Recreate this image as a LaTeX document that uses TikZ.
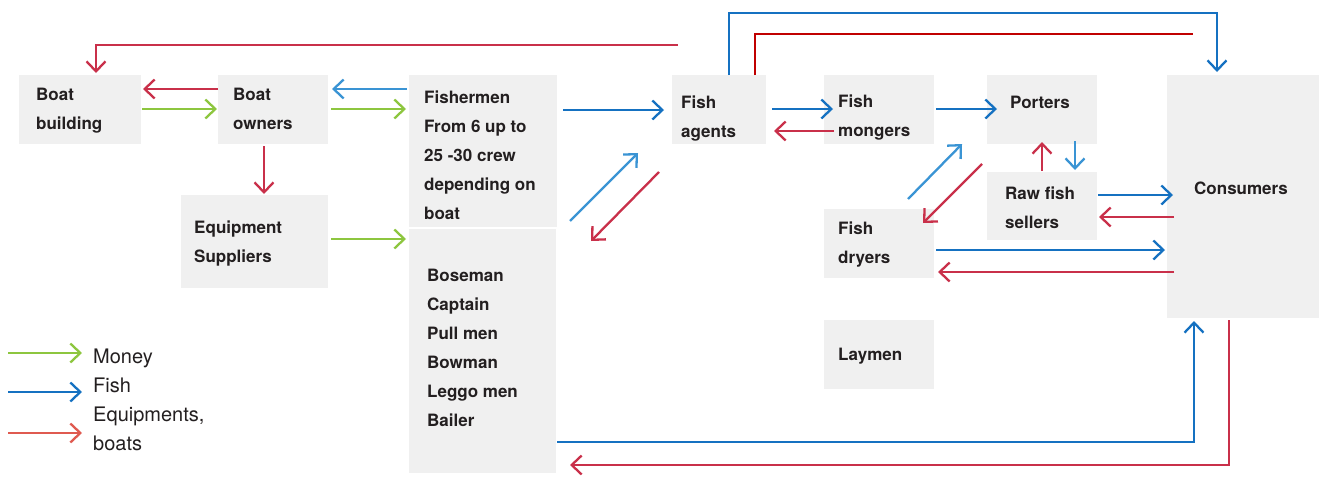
\documentclass[tikz,border=0pt]{standalone}
\usepackage{fontspec}
\setmainfont{TeX Gyre Heros}
\usetikzlibrary{arrows.meta,calc}
\definecolor{cgreen}{HTML}{8DC63F}
\definecolor{cblue}{HTML}{1571C1}
\definecolor{clblue}{HTML}{3A94D4}
\definecolor{cred}{HTML}{C9304A}
\definecolor{cdred}{HTML}{C00000}
\definecolor{clred}{HTML}{DF5A50}
\definecolor{boxgray}{HTML}{F0F0F0}
\definecolor{ink}{HTML}{231F20}
\begin{document}
\begin{tikzpicture}[x=1pt,y=-1pt,
  box/.style={anchor=north west, fill=boxgray, inner sep=0pt, outer sep=0pt},
  txt/.style={anchor=north west, inner sep=0pt, align=left, text=ink,
    font=\fontsize{17pt}{29pt}\selectfont\bfseries},
  lgd/.style={anchor=north west, inner sep=0pt, align=left, text=ink,
    font=\fontsize{20pt}{29pt}\selectfont},
  flow/.style={line width=2.3pt, -{Straight Barb[length=10pt,width=19pt]}},
  plain/.style={line width=2.3pt}]
\useasboundingbox (0,0) rectangle (1319,477);

% boxes
\node[box, minimum width=122pt, minimum height=69pt] (bb) at (19,75) {};
\node[box, minimum width=110pt, minimum height=69pt] (bo) at (218,75) {};
\node[box, minimum width=147pt, minimum height=93pt] (eq) at (181,195) {};
\node[box, minimum width=148pt, minimum height=152pt] (fm) at (409,75) {};
\node[box, minimum width=147pt, minimum height=244pt] (crew) at (409,229) {};
\node[box, minimum width=94pt, minimum height=69pt] (fa) at (672,75) {};
\node[box, minimum width=110pt, minimum height=69pt] (fmo) at (824,75) {};
\node[box, minimum width=110pt, minimum height=69pt] (po) at (987,75) {};
\node[box, minimum width=110pt, minimum height=68pt] (rf) at (987,172) {};
\node[box, minimum width=110pt, minimum height=69pt] (fd) at (824,209) {};
\node[box, minimum width=110pt, minimum height=69pt] (lay) at (824,320) {};
\node[box, minimum width=152pt, minimum height=243pt] (con) at (1167,75) {};

% texts
\node[txt] (bbT) at (36,87.7) {Boat\\building};
\node[txt] (boT) at (233,87.7) {Boat\\owners};
\node[txt] (eqT) at (194,220.7) {Equipment\\Suppliers};
\node[txt] (fmT) at (424,90.7) {Fishermen\\From 6 up to\\25 -30 crew\\depending on\\boat};
\node[txt] (crewT) at (427,268.7) {Boseman\\Captain\\Pull men\\Bowman\\Leggo men\\Bailer};
\node[txt] (faT) at (681,95.7) {Fish\\agents};
\node[txt] (fmoT) at (838,94.7) {Fish\\mongers};
\node[txt] (poT) at (1010,95.7) {Porters};
\node[txt] (rfT) at (1005,186.7) {Raw fish\\sellers};
\node[txt] (fdT) at (838,221.7) {Fish\\dryers};
\node[txt] (layT) at (838,347.7) {Laymen};
\node[txt] (conT) at (1194,181.7) {Consumers};

% legend
\node[lgd] (lgM) at (93,348.6) {Money};
\node[lgd] (lgF) at (93,377.6) {Fish};
\node[lgd] (lgE) at (93,406.6) {Equipments,\\boats};
\coordinate (l1) at (8,353);
\coordinate (l2) at (8,392);
\coordinate (l3) at (8,433);
\draw[flow, cgreen] (l1) -- ([xshift=-11pt]lgM.west |- l1);
\draw[flow, cblue] (l2) -- ([xshift=-11pt]lgF.west |- l2);
\draw[flow, clred] (l3) -- ([xshift=-11pt]lgE.west |- l3);

% connectors
\coordinate (t1) at (678,45);
\draw[flow, cred] (t1) -| ([xshift=16pt,yshift=2pt]bb.north);
\draw[flow, cred] (bo.west |- 0,89) -- ([xshift=2pt]bb.east |- 0,89);
\draw[flow, cgreen] ([xshift=1pt]bb.east |- 0,109) -- ([xshift=-1pt]bo.west |- 0,109);
\draw[flow, clblue] ([xshift=-2pt]fm.west |- 0,89) -- ([xshift=4pt]bo.east |- 0,89);
\draw[flow, cgreen] ([xshift=3pt]bo.east |- 0,109) -- ([xshift=-3pt]fm.west |- 0,109);
\draw[flow, cred] ([yshift=-2pt]bo.south -| 264,0) -- ([yshift=1pt]eq.north -| 264,0);
\draw[flow, cgreen] ([xshift=3pt]eq.east |- 0,239) -- ([xshift=-3pt]crew.west |- 0,239);
\draw[flow, cblue] ([xshift=6pt]fm.east |- 0,110) -- ([xshift=-8pt]fa.west |- 0,110);
\draw[flow, clblue] ($(fm.south east)+(13,-6)$) -- ($(fa.south west)+(-34,9)$);
\draw[flow, cred] ($(fa.south west)+(-13,28)$) -- ($(fm.south east)+(34,14)$);
\draw[flow, cblue] ([xshift=10pt]fa.north) -- ++(0,-62) -| ([xshift=-26pt,yshift=3pt]con.north);
\coordinate (r2) at (1193,34);
\draw[plain, cdred] ([xshift=36pt]fa.north) |- (r2);
\draw[flow, cblue] ([xshift=6pt]fa.east |- 0,109) -- ([xshift=9pt]fmo.west |- 0,109);
\draw[flow, cred] ([xshift=10pt]fmo.west |- 0,131) -- ([xshift=8pt]fa.east |- 0,131);
\draw[flow, cblue] ([xshift=2pt]fmo.east |- 0,109) -- ([xshift=10pt]po.west |- 0,109);
\draw[flow, clblue] ($(fd.north east)+(-26,-10)$) -- ($(po.south west)+(-25,0)$);
\draw[flow, cred] ($(po.south west)+(-5,20)$) -- ($(fd.north east)+(-11,14)$);
\draw[flow, cred] ([yshift=1pt]rf.north -| 1042,0) -- ([yshift=2pt]po.south -| 1042,0);
\draw[flow, clblue] ([yshift=3pt]po.south -| 1075,0) -- ([yshift=2pt]rf.north -| 1075,0);
\draw[flow, cblue] ([xshift=1pt]rf.east |- 0,195) -- ([xshift=6pt]con.west |- 0,195);
\draw[flow, cred] ([xshift=7pt]con.west |- 0,217) -- ([xshift=2pt]rf.east |- 0,217);
\draw[flow, cblue] ([xshift=2pt]fd.east |- 0,250) -- ([xshift=-2pt]con.west |- 0,250);
\draw[flow, cred] ([xshift=7pt]con.west |- 0,272) -- ([xshift=4pt]fd.east |- 0,272);
\draw[flow, cblue] ([xshift=1pt]crew.east |- 0,442) -| ([xshift=-49pt,yshift=-3pt]con.south);
\draw[flow, cred] ([xshift=-14pt,yshift=-2pt]con.south) |- ([xshift=14pt]crew.east |- 0,465);
\end{tikzpicture}
\end{document}
